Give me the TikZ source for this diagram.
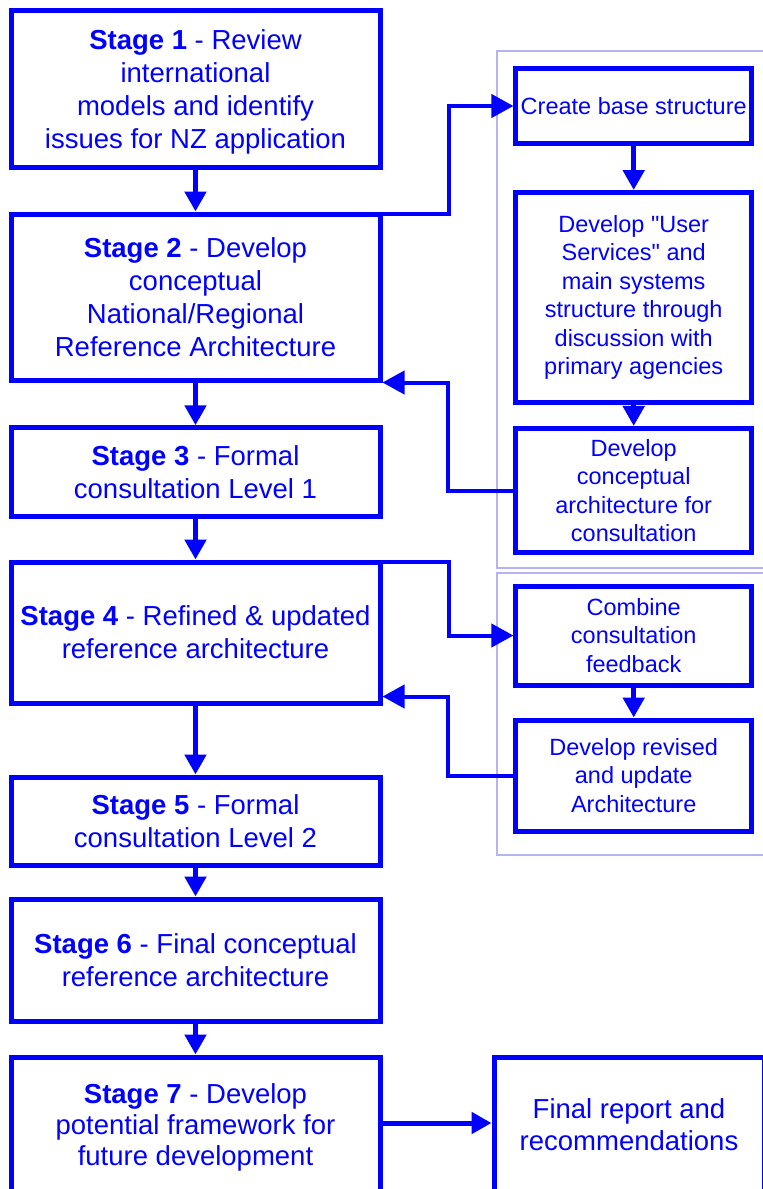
\documentclass[tikz,border=0pt]{standalone}
\usepackage{fontspec}
\setmainfont{Liberation Sans}[Ligatures=TeXOff]
\usetikzlibrary{arrows.meta}
\definecolor{dblue}{RGB}{0,0,255}
\definecolor{lav}{RGB}{180,180,240}
\begin{document}
\begin{tikzpicture}[x=1pt,y=-1pt,
  stagebox/.style={draw=dblue, line width=5pt, text=dblue, inner sep=0pt, align=center, minimum width=369pt, text depth=0pt, font=\fontsize{27.5}{33}\selectfont},
  subbox/.style={draw=dblue, line width=5pt, text=dblue, inner sep=0pt, align=center, minimum width=235.5pt, font=\fontsize{23.5}{28.4}\selectfont},
  arr/.style={draw=dblue, line width=5pt, -{Triangle[width=21pt,length=20pt]}},
  conn/.style={draw=dblue, line width=4pt, -{Triangle[width=23pt,length=22pt]}},
  groupbox/.style={draw=lav, line width=1.5pt}
]
\useasboundingbox (0,0) rectangle (763,1189);
\clip (0,0) rectangle (763,1189);

% group frames
\draw[groupbox] (497,51) rectangle (768,568);
\draw[groupbox] (497,573) rectangle (768,855);

% stages
\node[stagebox, minimum height=157.5pt] (s1) at (195.5,89)
  {\textbf{Stage 1} - Review\\international\\models and identify\\issues for NZ application};
\node[stagebox, minimum height=166pt] (s2) at (195.5,297)
  {\textbf{Stage 2} - Develop\\conceptual\\National/Regional\\Reference Architecture};
\node[stagebox, minimum height=88.5pt] (s3) at (195.5,472)
  {\textbf{Stage 3} - Formal\\consultation Level 1};
\node[stagebox, minimum height=141pt] (s4) at (195.5,632.5)
  {\textbf{Stage 4} - Refined \& updated\\reference architecture};
\node[stagebox, minimum height=88pt] (s5) at (195.5,821)
  {\textbf{Stage 5} - Formal\\consultation Level 2};
\node[stagebox, minimum height=122pt] (s6) at (195.5,960)
  {\textbf{Stage 6} - Final conceptual\\reference architecture};
\node[stagebox, minimum height=135pt, font=\fontsize{27.5}{31}\selectfont] (s7) at (195.5,1124.5)
  {\textbf{Stage 7} - Develop\\potential framework for\\future development};
\node[stagebox, minimum width=270pt, minimum height=135pt, font=\fontsize{27.5}{32}\selectfont] (final) at (629,1124.5)
  {Final report and\\recommendations};

% sub-steps
\node[subbox, minimum height=75.7pt] (create) at (633.7,106)
  {Create base structure};
\node[subbox, minimum height=210pt] (user) at (633.7,297.5)
  {Develop "User\\Services" and\\main systems\\structure through\\discussion with\\primary agencies};
\node[subbox, minimum height=124.5pt] (concept) at (633.7,490.7)
  {Develop\\conceptual\\architecture for\\consultation};
\node[subbox, minimum height=99pt] (combine) at (633.7,635.5)
  {Combine\\consultation\\feedback};
\node[subbox, minimum height=111pt] (revised) at (633.7,775.5)
  {Develop revised\\and update\\Architecture};

% main chain
\draw[arr] (s1) -- (s2);
\draw[arr] (s2) -- (s3);
\draw[arr] (s3) -- (s4);
\draw[arr] (s4) -- (s5);
\draw[arr] (s5) -- (s6);
\draw[arr] (s6) -- (s7);
\draw[arr] ([yshift=1.5pt]s7.east) -- ([yshift=1.5pt]final.west);

\draw[arr] (create) -- (user);
\draw[arr] (user) -- (concept);
\draw[arr] (combine) -- (revised);

% side loops
\draw[conn] ([yshift=-2pt]s2.north east) -- ++(66,0) |- (create.west);
\draw[conn] (concept.west) -- ++(-65,0) |- (s2.south east);
\draw[conn] ([yshift=-2pt]s4.north east) -- ++(66,0) |- (combine.west);
\draw[conn] (revised.west) -- ++(-65,0) |- ([yshift=9pt]s4.south east);
\end{tikzpicture}
\end{document}
